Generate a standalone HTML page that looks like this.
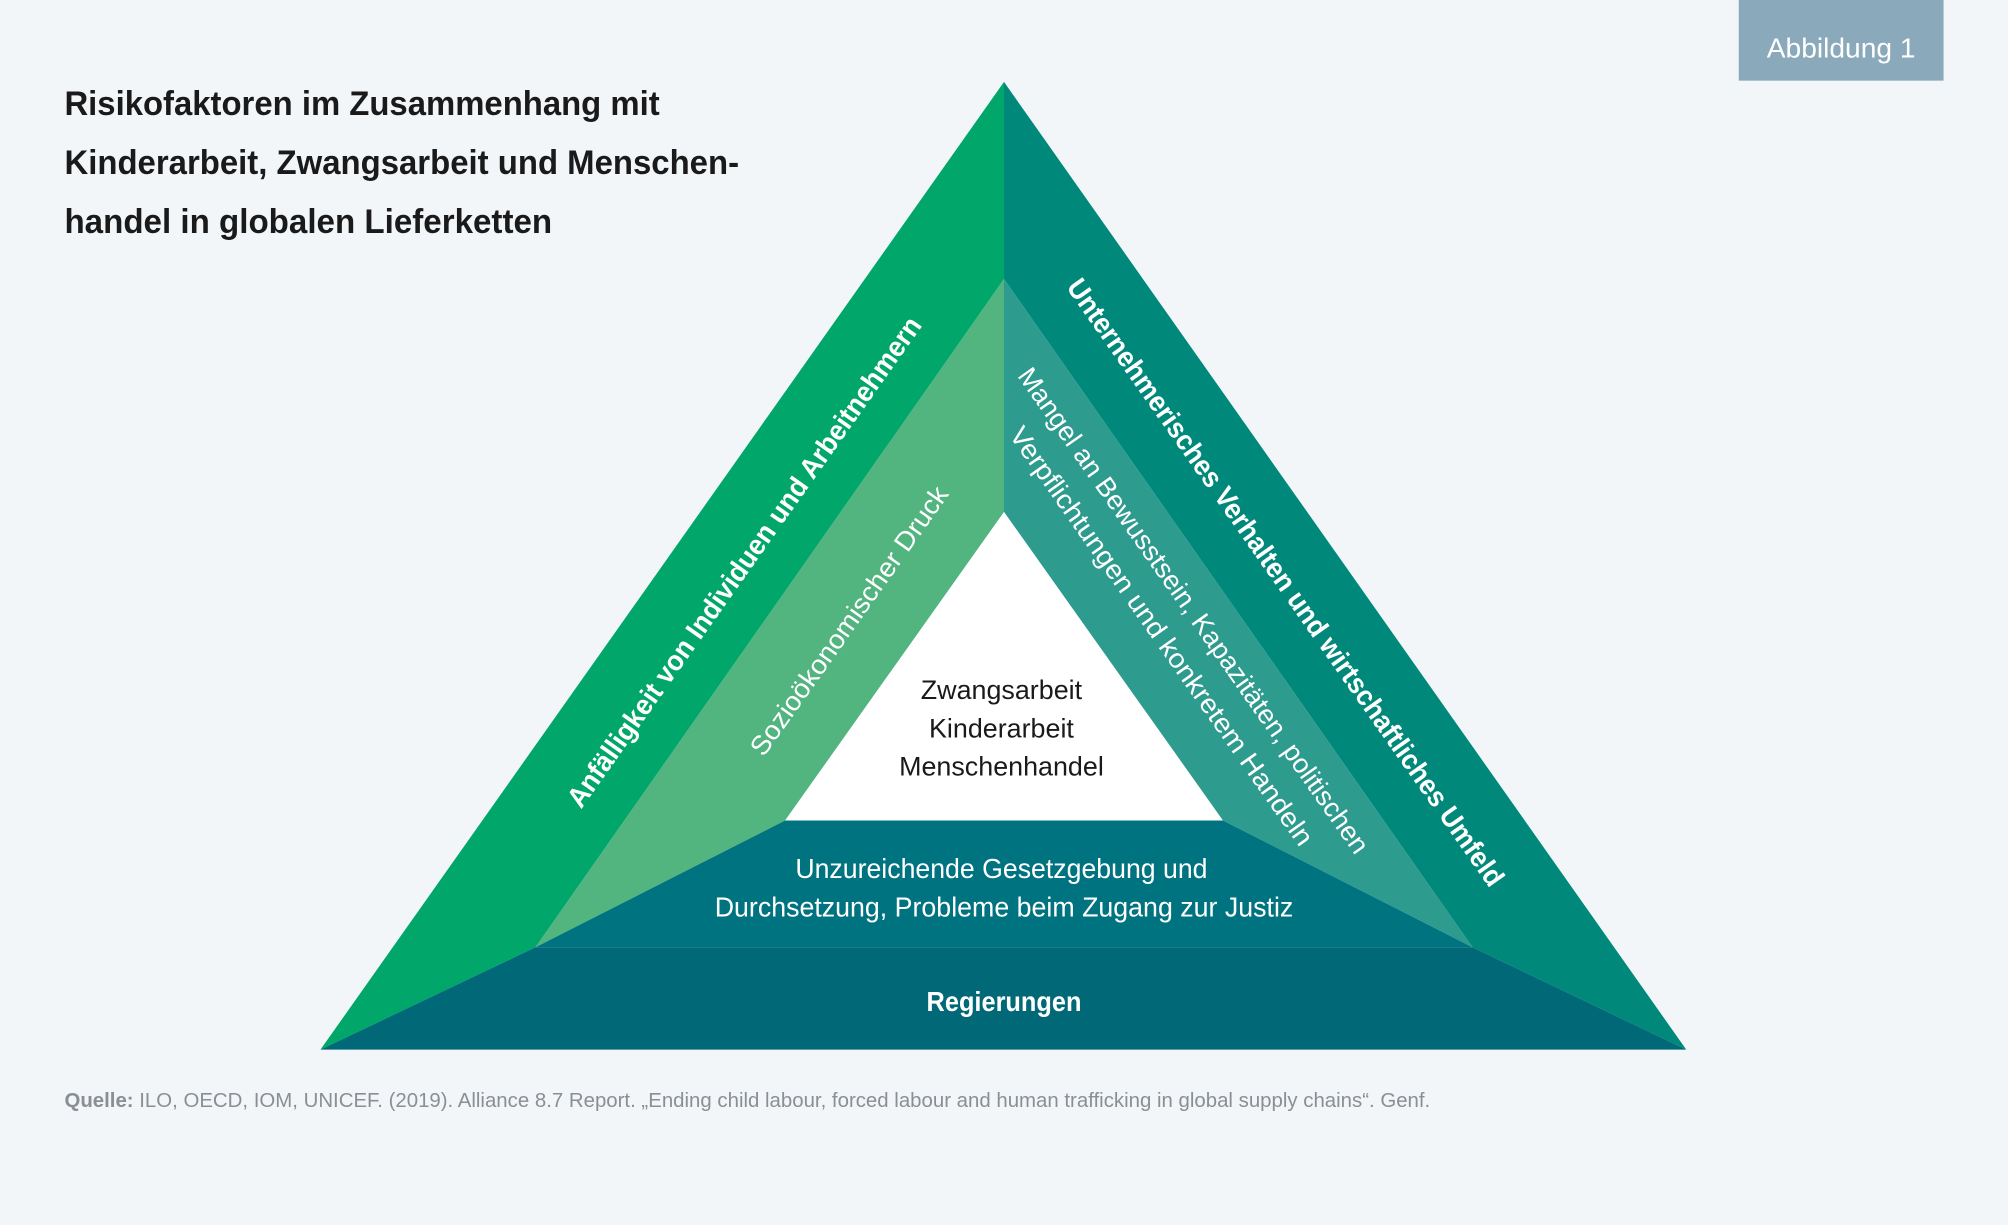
<!DOCTYPE html>
<html><head><meta charset="utf-8"><style>
html,body{margin:0;padding:0;background:#f2f6f9;}
svg{display:block;font-family:"Liberation Sans",sans-serif;}
</style></head><body>
<svg width="2008" height="1225" viewBox="0 0 1568 957" xmlns="http://www.w3.org/2000/svg">
<rect width="1568" height="957" fill="#f2f6f9"/>
<rect x="1358" y="0" width="160" height="63" fill="#8aaabb"/>
<text x="1438" y="45" font-size="22" fill="#fff" text-anchor="middle">Abbildung 1</text>
<g font-weight="bold" font-size="27" fill="#1a1a1a">
<text x="50" y="90" textLength="465" lengthAdjust="spacingAndGlyphs">Risikofaktoren im Zusammenhang mit</text>
<text x="50" y="136" textLength="527" lengthAdjust="spacingAndGlyphs">Kinderarbeit, Zwangsarbeit und Menschen-</text>
<text x="50" y="182" textLength="381" lengthAdjust="spacingAndGlyphs">handel in globalen Lieferketten</text>
</g>
<!-- outer -->
<polygon points="784,64 784,218 418,740 250,820" fill="#00a66a"/>
<polygon points="784,64 1317,820 1150,740 784,218" fill="#00897b"/>
<polygon points="250,820 1317,820 1150,740 418,740" fill="#006877"/>
<!-- middle -->
<polygon points="784,218 784,400 613,641 418,740" fill="#52b47f"/>
<polygon points="784,218 1150,740 955,641 784,400" fill="#2e9b8f"/>
<polygon points="418,740 613,641 955,641 1150,740" fill="#007380"/>
<!-- inner -->
<polygon points="784,400 613,641 955,641" fill="#ffffff"/>
<g fill="#fff" dominant-baseline="central" text-anchor="middle">
<text transform="translate(581,439) rotate(-54.8)" font-size="22" font-weight="bold" textLength="463" lengthAdjust="spacingAndGlyphs">Anfälligkeit von Individuen und Arbeitnehmern</text>
<text transform="translate(663,485) rotate(-54.8)" font-size="21" textLength="252" lengthAdjust="spacingAndGlyphs">Sozioökonomischer Druck</text>
<text transform="translate(1004,455) rotate(54.8)" font-size="22" font-weight="bold" textLength="575" lengthAdjust="spacingAndGlyphs">Unternehmerisches Verhalten und wirtschaftliches Umfeld</text>
<text transform="translate(932,477) rotate(54.8)" font-size="21" textLength="459" lengthAdjust="spacingAndGlyphs">Mangel an Bewusstsein, Kapazitäten, politischen</text>
<text transform="translate(907,497) rotate(54.8)" font-size="21" textLength="395" lengthAdjust="spacingAndGlyphs">Verpflichtungen und konkretem Handeln</text>
</g>
<g text-anchor="middle" font-size="21" fill="#1a1a1a">
<text x="782" y="546">Zwangsarbeit</text>
<text x="782" y="576">Kinderarbeit</text>
<text x="782" y="606">Menschenhandel</text>
</g>
<g text-anchor="middle" font-size="22" fill="#fff">
<text x="782" y="686" textLength="322" lengthAdjust="spacingAndGlyphs">Unzureichende Gesetzgebung und</text>
<text x="784" y="716" textLength="452" lengthAdjust="spacingAndGlyphs">Durchsetzung, Probleme beim Zugang zur Justiz</text>
<text x="784" y="790" font-weight="bold" textLength="121" lengthAdjust="spacingAndGlyphs">Regierungen</text>
</g>
<text x="50" y="865" font-size="16" fill="#8a8f94" textLength="1067" lengthAdjust="spacingAndGlyphs"><tspan font-weight="bold">Quelle:</tspan> ILO, OECD, IOM, UNICEF. (2019). Alliance 8.7 Report. „Ending child labour, forced labour and human trafficking in global supply chains“. Genf.</text>
</svg>
</body></html>
